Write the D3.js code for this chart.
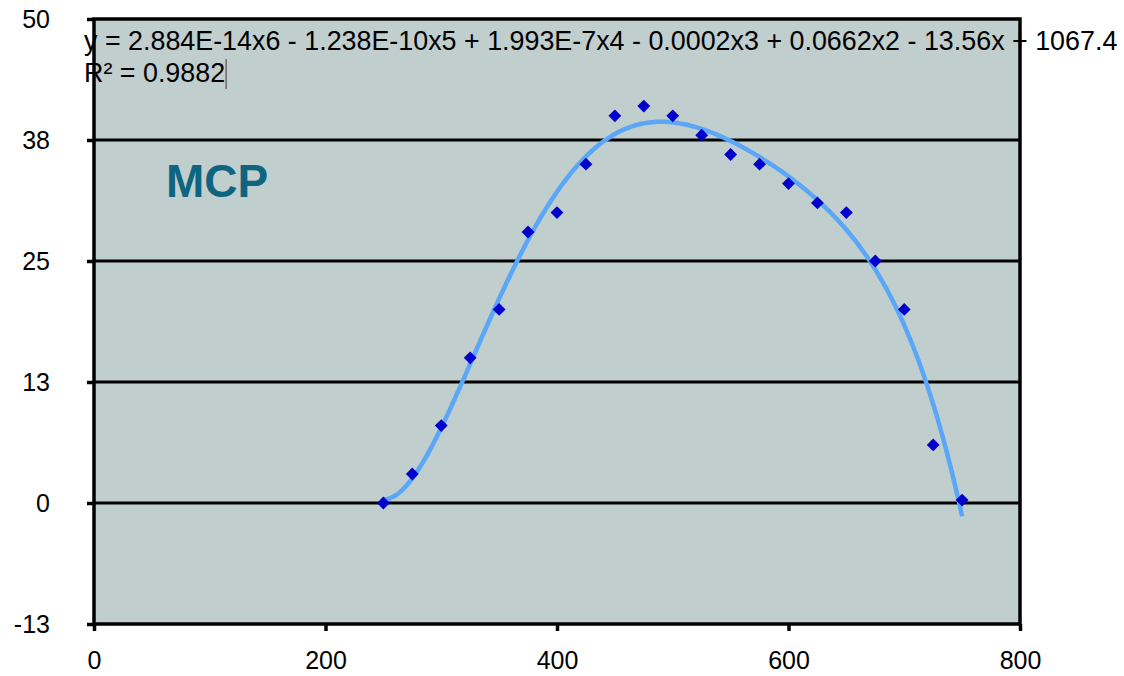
<!DOCTYPE html>
<html>
<head>
<meta charset="utf-8">
<script src="https://cdn.jsdelivr.net/npm/d3@7"></script>
<style>
  html, body { margin: 0; padding: 0; background: #ffffff; }
  svg { display: block; }
  text { font-family: "Liberation Sans", Arial, Helvetica, sans-serif; }
</style>
</head>
<body>
<svg id="chart" width="1124" height="676"></svg>
<script>
// ---- data ----
const xValues = [250, 275, 300, 325, 350, 375, 400, 425, 450, 475, 500, 525, 550, 575, 600, 625, 650, 675, 700, 725, 750];
const yValues = [0, 3, 8, 15, 20, 28, 30, 35, 40, 41, 40, 38, 36, 35, 33, 31, 30, 25, 20, 6, 0.3];
const xTickValues = [0, 200, 400, 600, 800];
const yTickValues = [-12.5, 0, 12.5, 25, 37.5, 50];
const yTickLabels = ["-13", "0", "13", "25", "38", "50"];
const equationText = "y = 2.884E-14x6 - 1.238E-10x5 + 1.993E-7x4 - 0.0002x3 + 0.0662x2 - 13.56x + 1067.4";
const r2Text = "R\u00B2 = 0.9882";
const seriesLabel = "MCP";
const trendDegree = 6;

// ---- layout ----
const svg = d3.select("#chart");
const plotL = 94, plotR = 1020, plotT = 19, plotB = 624;

const x = d3.scaleLinear().domain([0, 800]).range([plotL, plotR]);
const y = d3.scaleLinear().domain([-12.5, 50]).range([plotB, plotT]);

// plot background
svg.append("rect")
  .attr("x", plotL).attr("y", plotT)
  .attr("width", plotR - plotL).attr("height", plotB - plotT)
  .attr("fill", "#c0cece");

// gridlines
svg.append("g").selectAll("line")
  .data(yTickValues.filter(v => v > -12.5 && v < 50))
  .join("line")
  .attr("x1", plotL).attr("x2", plotR)
  .attr("y1", d => y(d)).attr("y2", d => y(d))
  .attr("stroke", "#000").attr("stroke-width", 3);

// ---- polynomial trendline (least squares fit of the data) ----
function polyFit(xs, ys, deg) {
  const cx = 500, sx = 250;
  const n = deg + 1;
  const A = Array.from({length: n}, () => new Array(n + 1).fill(0));
  xs.forEach((xv, i) => {
    const t = (xv - cx) / sx;
    const pw = [];
    for (let k = 0; k < 2 * n; k++) pw.push(Math.pow(t, k));
    for (let r = 0; r < n; r++) {
      for (let c = 0; c < n; c++) A[r][c] += pw[r + c];
      A[r][n] += ys[i] * pw[r];
    }
  });
  for (let c = 0; c < n; c++) {
    let p = c;
    for (let r = c + 1; r < n; r++) if (Math.abs(A[r][c]) > Math.abs(A[p][c])) p = r;
    [A[c], A[p]] = [A[p], A[c]];
    for (let r = 0; r < n; r++) {
      if (r === c) continue;
      const f = A[r][c] / A[c][c];
      for (let k = c; k <= n; k++) A[r][k] -= f * A[c][k];
    }
  }
  const coef = A.map((row, i) => row[n] / row[i]);
  return xv => {
    const t = (xv - cx) / sx;
    let s = 0;
    for (let k = n - 1; k >= 0; k--) s = s * t + coef[k];
    return s;
  };
}
const fit = polyFit(xValues, yValues, trendDegree);
const xMin = d3.min(xValues), xMax = d3.max(xValues);
const curveX = d3.range(xMin, xMax + 0.001, 2);

svg.append("path")
  .datum(curveX)
  .attr("fill", "none")
  .attr("stroke", "#5aa6f8")
  .attr("stroke-width", 4.5)
  .attr("stroke-linecap", "butt")
  .attr("d", d3.line().x(d => x(d)).y(d => y(fit(d))).curve(d3.curveMonotoneX));

// points (diamonds)
svg.append("g").selectAll("path")
  .data(xValues.map((xv, i) => [xv, yValues[i]]))
  .join("path")
  .attr("transform", d => `translate(${x(d[0])},${y(d[1])})`)
  .attr("d", d3.symbol().type(d3.symbolDiamond2).size(105))
  .attr("fill", "#0000cc");

// border
svg.append("rect")
  .attr("x", plotL).attr("y", plotT)
  .attr("width", plotR - plotL).attr("height", plotB - plotT)
  .attr("fill", "none").attr("stroke", "#000").attr("stroke-width", 3.5);

// axes
const yAxis = svg.append("g")
  .attr("transform", `translate(${plotL},0)`)
  .call(d3.axisLeft(y).tickValues(yTickValues)
    .tickFormat((d, i) => yTickLabels[i])
    .tickSizeInner(7).tickSizeOuter(0).tickPadding(37));
yAxis.select(".domain").remove();
yAxis.selectAll("line").attr("stroke", "#000").attr("stroke-width", 3.5);
yAxis.selectAll("text").attr("font-size", 25).attr("fill", "#000")
  .attr("font-family", "'Liberation Sans', Arial, sans-serif");

const xAxis = svg.append("g")
  .attr("transform", `translate(0,${plotB})`)
  .call(d3.axisBottom(x).tickValues(xTickValues)
    .tickFormat(d3.format("d"))
    .tickSizeInner(7).tickSizeOuter(0).tickPadding(20));
xAxis.select(".domain").remove();
xAxis.selectAll("line").attr("stroke", "#000").attr("stroke-width", 3.5);
xAxis.selectAll("text").attr("font-size", 25).attr("fill", "#000")
  .attr("font-family", "'Liberation Sans', Arial, sans-serif");

// series label
svg.append("text")
  .attr("x", 166).attr("y", 197)
  .attr("font-size", 46).attr("font-weight", "bold")
  .attr("fill", "#0f6580")
  .text(seriesLabel);

// equation & R²
const eq = svg.append("text")
  .attr("x", 84).attr("y", 50)
  .attr("font-size", 22).attr("fill", "#000")
  .text(equationText);
const eqLen = eq.node().getComputedTextLength();
const eqSize = 22 * 1034 / eqLen;
eq.attr("font-size", eqSize);

const r2 = svg.append("text")
  .attr("x", 84).attr("y", 82)
  .attr("font-size", eqSize).attr("fill", "#000")
  .text(r2Text);
const r2Len = r2.node().getComputedTextLength();
svg.append("line")
  .attr("x1", 84 + r2Len + 1).attr("x2", 84 + r2Len + 1)
  .attr("y1", 59).attr("y2", 89)
  .attr("stroke", "#553333").attr("stroke-width", 1);
</script>
</body>
</html>
